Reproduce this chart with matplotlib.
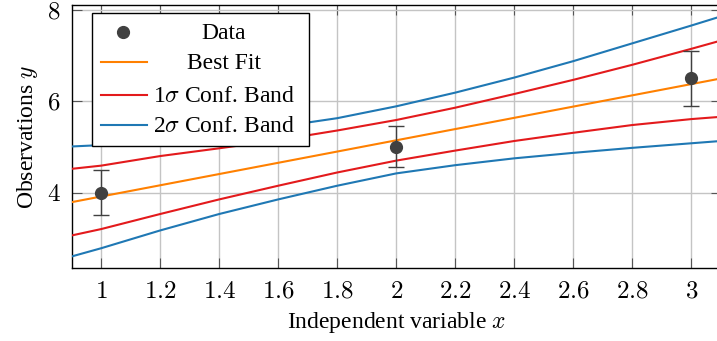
import matplotlib
matplotlib.use("Agg")
import matplotlib.pyplot as plt
from matplotlib.lines import Line2D
from matplotlib.patches import Rectangle

plt.rcParams["font.family"] = ["Liberation Serif", "DejaVu Serif"]
plt.rcParams["mathtext.fontset"] = "cm"
plt.rcParams["font.size"] = 17

# measurements with their uncertainties
x_data = [1, 2, 3]
y_data = [4.0, 5.0, 6.5]
y_err = [0.5, 0.45, 0.6]

# straight-line fit
fit_x = [0.9, 3.1]
fit_y = [3.79, 6.50]

# confidence bands of the fit
band_x = [0.9, 1.0, 1.2, 1.4, 1.6, 1.8, 2.0, 2.2, 2.4, 2.6, 2.8, 3.0, 3.1]
upper_1s = [4.52, 4.59, 4.80, 4.97, 5.15, 5.36, 5.59, 5.86, 6.16, 6.47, 6.80, 7.15, 7.33]
lower_1s = [3.06, 3.20, 3.53, 3.85, 4.15, 4.44, 4.70, 4.92, 5.13, 5.31, 5.48, 5.61, 5.66]
upper_2s = [5.01, 5.04, 5.14, 5.28, 5.44, 5.63, 5.89, 6.19, 6.52, 6.88, 7.27, 7.66, 7.86]
lower_2s = [2.60, 2.78, 3.17, 3.53, 3.85, 4.15, 4.42, 4.60, 4.75, 4.87, 4.98, 5.08, 5.13]

x_ticks = [1, 1.2, 1.4, 1.6, 1.8, 2, 2.2, 2.4, 2.6, 2.8, 3]
x_tick_labels = ["1", "1.2", "1.4", "1.6", "1.8", "2", "2.2", "2.4", "2.6", "2.8", "3"]
y_ticks = [4, 6, 8]

C_DATA = "#404040"
C_FIT = "#ff8000"
C_1S = "#e31a1c"
C_2S = "#1f78b4"

W, H = 717, 341
fig = plt.figure(figsize=(W / 100, H / 100), dpi=100)
# axes box in pixels (left, right, top, bottom); right edge runs just past the canvas
L, R, T, B = 71.7, 720.8, 4.7, 268.3
ax = fig.add_axes([L / W, 1 - B / H, (R - L) / W, (B - T) / H])

ax.plot(band_x, upper_2s, color=C_2S, lw=1.5, zorder=3)
ax.plot(band_x, lower_2s, color=C_2S, lw=1.5, zorder=3)
ax.plot(band_x, upper_1s, color=C_1S, lw=1.5, zorder=3)
ax.plot(band_x, lower_1s, color=C_1S, lw=1.5, zorder=3)
ax.plot(fit_x, fit_y, color=C_FIT, lw=1.5, zorder=3)
ax.errorbar(x_data, y_data, yerr=y_err, fmt="o", color=C_DATA, ms=8.5,
            elinewidth=1.0, capsize=5.5, capthick=1.0, zorder=4)

ax.set_xlim(0.9, 3.1)
ax.set_ylim(2.34, 8.117)
ax.set_xticks(x_ticks)
ax.set_xticklabels([f"${s}$" for s in x_tick_labels])
ax.set_yticks(y_ticks)
ax.set_yticklabels([f"${v}$" for v in y_ticks])
ax.grid(True, color="#c4c4c4", lw=1.0)
ax.set_axisbelow(True)
ax.tick_params(direction="in", length=7, width=0.8, color="#555555",
               top=True, right=True, labelsize=18)
ax.tick_params(axis="x", pad=9)
ax.tick_params(axis="y", pad=8)
for s in ax.spines.values():
    s.set_linewidth(1.0)
    s.set_color("black")

ax.set_xlabel("Independent variable $x$", labelpad=5)
ax.set_ylabel("Observations $y$", labelpad=5)

# legend, built by hand so the labels sit centred in their column
def px(x, y):
    return x / W, 1 - y / H

box_l, box_r, box_t, box_b = 91.7, 309.3, 12.7, 145.7
fig.add_artist(Rectangle(px(box_l, box_b), (box_r - box_l) / W, (box_b - box_t) / H,
                         transform=fig.transFigure, facecolor="white",
                         edgecolor="black", lw=1.0, zorder=10))
rows = [("Data", None, 39.3), ("Best Fit", C_FIT, 69.3),
        (r"1$\sigma$ Conf. Band", C_1S, 101.7), (r"2$\sigma$ Conf. Band", C_2S, 131.7)]
for label, color, base in rows:
    mid = base - 7
    if color is None:
        fig.add_artist(Line2D([px(123.3, mid)[0]], [px(123.3, mid)[1]], marker="o",
                              ms=8.5, color=C_DATA, ls="none",
                              transform=fig.transFigure, zorder=11))
    else:
        (x0, y0), (x1, _) = px(100.7, mid), px(146.7, mid)
        fig.add_artist(Line2D([x0, x1], [y0, y0], color=color, lw=1.5,
                              transform=fig.transFigure, zorder=11))
    tx, ty = px(224, base)
    fig.text(tx, ty, label, ha="center", va="baseline", zorder=12)

fig.savefig("out.png", dpi=100, facecolor="white")
